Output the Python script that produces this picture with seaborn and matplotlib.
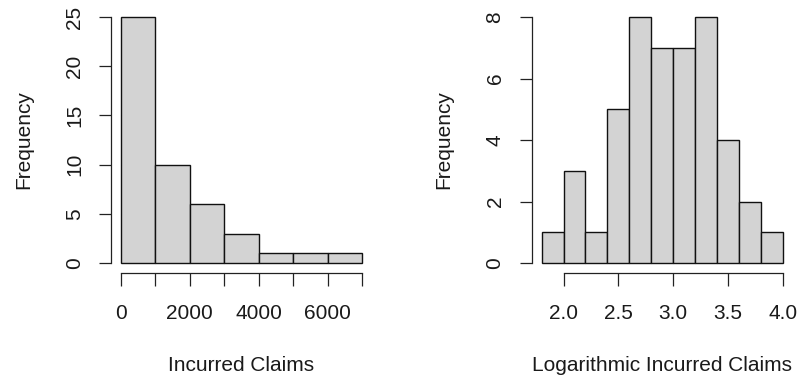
import matplotlib
matplotlib.use("Agg")
import matplotlib.pyplot as plt
import seaborn as sns

# Incurred claims histogram (bin edges and counts)
claim_breaks = [0, 1000, 2000, 3000, 4000, 5000, 6000, 7000]
claim_counts = [25, 10, 6, 3, 1, 1, 1]
claim_xticks = [0, 1000, 2000, 3000, 4000, 5000, 6000, 7000]
claim_xticklabels = ["0", "", "2000", "", "4000", "", "6000", ""]
claim_yticks = [0, 5, 10, 15, 20, 25]

# Logarithmic incurred claims histogram
log_breaks = [1.8, 2.0, 2.2, 2.4, 2.6, 2.8, 3.0, 3.2, 3.4, 3.6, 3.8, 4.0]
log_counts = [1, 3, 1, 5, 8, 7, 7, 8, 4, 2, 1]
log_xticks = [2.0, 2.5, 3.0, 3.5, 4.0]
log_xticklabels = ["2.0", "2.5", "3.0", "3.5", "4.0"]
log_yticks = [0, 2, 4, 6, 8]

sns.set_style("white")
plt.rcParams["font.family"] = ["Liberation Sans", "DejaVu Sans"]

W, H = 801, 381
fig = plt.figure(figsize=(W / 100, H / 100), dpi=100)
fig.patch.set_facecolor("white")

TEXT = "#1a1a1a"
FS = 15.0


def draw_hist(ax, breaks, counts, xticks, xticklabels, yticks, xlabel):
    mids = [(a + b) / 2 for a, b in zip(breaks[:-1], breaks[1:])]
    sns.histplot(x=mids, weights=counts, bins=breaks, ax=ax,
                 color="#D3D3D3", edgecolor="#111111", linewidth=1.0,
                 alpha=1.0)
    span = breaks[-1] - breaks[0]
    ax.set_xlim(breaks[0] - 0.04 * span, breaks[-1] + 0.04 * span)
    top = max(counts)
    ax.set_ylim(-0.04 * top, top * 1.04)

    for side in ("top", "right"):
        ax.spines[side].set_visible(False)
    for side in ("left", "bottom"):
        ax.spines[side].set_color("#222222")
        ax.spines[side].set_linewidth(0.9)
    ax.spines["left"].set_bounds(yticks[0], yticks[-1])
    ax.spines["bottom"].set_bounds(xticks[0], xticks[-1])

    ax.set_xticks(xticks)
    ax.set_xticklabels(xticklabels)
    ax.set_yticks(yticks)
    ax.set_yticklabels([str(v) for v in yticks], rotation=90, va="center")
    ax.tick_params(axis="both", direction="out", length=9, width=0.9,
                   color="#222222", labelsize=FS, labelcolor=TEXT,
                   bottom=True, left=True)
    ax.tick_params(axis="x", pad=13.5)
    ax.tick_params(axis="y", pad=10.8)
    ax.grid(False)

    ax.set_xlabel(xlabel, fontsize=FS, color=TEXT)
    ax.set_ylabel("Frequency", fontsize=FS, color=TEXT)
    ax.xaxis.set_label_coords(0.5, -0.312)
    ax.yaxis.set_label_coords(-0.301, 0.5)


ax_w = 260.2 / W
ax_b = (H - 272.9) / H
ax_h = (272.9 - 7.2) / H

ax1 = fig.add_axes([111.4 / W, ax_b, ax_w, ax_h])
ax2 = fig.add_axes([532.0 / W, ax_b, ax_w, ax_h])

draw_hist(ax1, claim_breaks, claim_counts, claim_xticks, claim_xticklabels,
          claim_yticks, "Incurred Claims")
draw_hist(ax2, log_breaks, log_counts, log_xticks, log_xticklabels,
          log_yticks, "Logarithmic Incurred Claims")

fig.savefig("out.png", dpi=100, facecolor="white")
